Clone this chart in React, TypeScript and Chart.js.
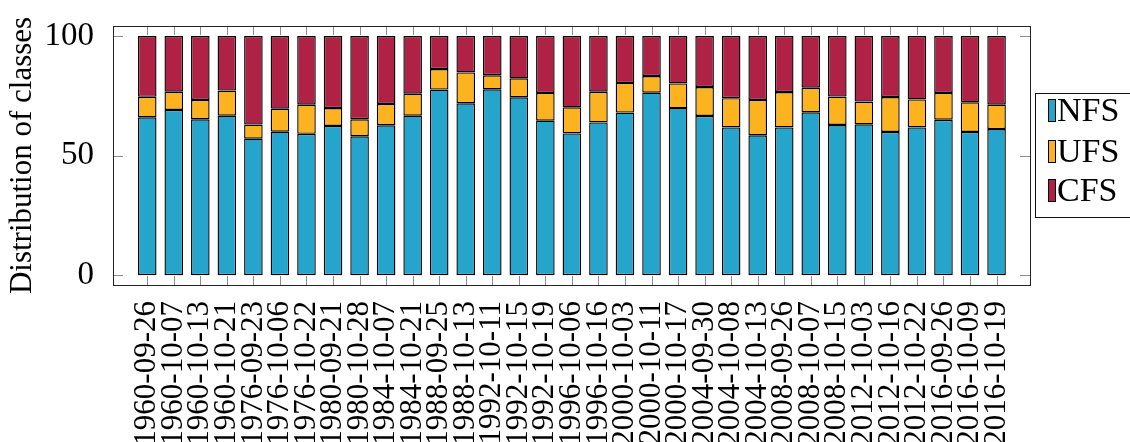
import React, { useEffect, useRef } from "react";
import { Chart, registerables } from "chart.js";

Chart.register(...registerables);

const categories: string[] = [
  "1960-09-26", "1960-10-07", "1960-10-13", "1960-10-21", "1976-09-23", "1976-10-06",
  "1976-10-22", "1980-09-21", "1980-10-28", "1984-10-07", "1984-10-21", "1988-09-25",
  "1988-10-13", "1992-10-11", "1992-10-15", "1992-10-19", "1996-10-06", "1996-10-16",
  "2000-10-03", "2000-10-11", "2000-10-17", "2004-09-30", "2004-10-08", "2004-10-13",
  "2008-09-26", "2008-10-07", "2008-10-15", "2012-10-03", "2012-10-16", "2012-10-22",
  "2016-09-26", "2016-10-09", "2016-10-19",
];

const nfs: number[] = [
  66.0, 69.1, 65.2, 66.7, 57.1, 60.0, 59.1, 62.4, 58.1, 62.7, 66.7, 77.6,
  71.9, 77.7, 74.4, 64.6, 59.3, 63.9, 68.0, 76.3, 69.9, 66.6, 61.8, 58.5,
  61.8, 68.1, 62.8, 63.1, 59.9, 61.8, 65.0, 59.9, 61.1,
];

const ufs: number[] = [
  8.6, 7.6, 8.1, 10.5, 5.9, 9.6, 12.2, 7.5, 7.1, 8.9, 9.2, 8.6,
  12.9, 5.9, 7.9, 11.6, 10.9, 12.8, 12.4, 7.0, 10.3, 12.1, 12.2, 14.8,
  14.8, 10.3, 11.9, 9.5, 14.6, 11.7, 11.2, 12.4, 10.2,
];

const cfs: number[] = [
  25.4, 23.3, 26.7, 22.8, 37.0, 30.4, 28.7, 30.1, 34.8, 28.4, 24.1, 13.8,
  15.2, 16.4, 17.7, 23.8, 29.8, 23.3, 19.6, 16.7, 19.8, 21.3, 26.0, 26.7,
  23.4, 21.6, 25.3, 27.4, 25.5, 26.5, 23.8, 27.7, 28.7,
];

const seriesNames: string[] = ["NFS", "UFS", "CFS"];
const yTickValues: number[] = [0, 50, 100];

const FONT = "'Liberation Serif', 'Times New Roman', serif";
const COLORS = ["#26a5cc", "#fcb31f", "#af2145"];

const framePlugin = {
  id: "frameAndLegend",
  afterDraw(chart: any) {
    const { ctx, chartArea, scales } = chart;
    const { left, right, top, bottom } = chartArea;
    ctx.save();
    // inward ticks
    ctx.strokeStyle = "#8c8c8c";
    ctx.lineWidth = 1;
    const L = 10;
    ctx.beginPath();
    scales.y.ticks.forEach((t: any) => {
      const py = Math.round(scales.y.getPixelForValue(t.value)) + 0.5;
      ctx.moveTo(left, py);
      ctx.lineTo(left + L, py);
      ctx.moveTo(right, py);
      ctx.lineTo(right - L, py);
    });
    scales.x.ticks.forEach((t: any) => {
      const px = Math.round(scales.x.getPixelForValue(t.value)) + 0.5;
      ctx.moveTo(px, top);
      ctx.lineTo(px, top + 9);
      ctx.moveTo(px, bottom);
      ctx.lineTo(px, bottom - 9);
    });
    ctx.stroke();
    // frame
    ctx.strokeStyle = "#222";
    ctx.strokeRect(
      Math.round(left) + 0.5,
      Math.round(top) + 0.5,
      Math.round(right - left),
      Math.round(bottom - top)
    );
    // legend
    const lx = right + 5;
    const ly = 93;
    ctx.strokeStyle = "#111";
    ctx.strokeRect(Math.round(lx) + 0.5, ly + 0.5, 100, 124);
    const ds = chart.data.datasets;
    const centers = [110, 151, 190];
    ctx.font = `34px ${FONT}`;
    ctx.textBaseline = "alphabetic";
    ctx.textAlign = "left";
    ds.forEach((d: any, i: number) => {
      const cy = centers[i];
      ctx.fillStyle = d.backgroundColor;
      ctx.fillRect(lx + 13, cy - 11, 7, 22);
      ctx.strokeStyle = "#000";
      ctx.strokeRect(lx + 13.5, cy - 10.5, 7, 22);
      ctx.fillStyle = "#000";
      ctx.fillText(d.label, lx + 22, cy + 11);
    });
    ctx.restore();
  },
};

export default function App() {
  const ref = useRef<HTMLCanvasElement | null>(null);

  useEffect(() => {
    if (!ref.current) return;
    const datasets = [nfs, ufs, cfs].map((arr, k) => ({
      label: seriesNames[k],
      data: arr.map((v, i) => ({ x: i, y: v })),
      backgroundColor: COLORS[k],
      borderColor: "#000",
      borderWidth: 1.4,
      borderSkipped: false,
      categoryPercentage: 1,
      barPercentage: 0.7,
    }));

    const chart = new Chart(ref.current, {
      type: "bar",
      data: { datasets },
      options: {
        animation: false,
        responsive: false,
        devicePixelRatio: 1,
        layout: { padding: { top: 26, right: 100, bottom: 0, left: 0 } },
        plugins: {
          legend: { display: false },
          tooltip: { enabled: false },
        },
        scales: {
          x: {
            type: "linear",
            stacked: true,
            offset: false,
            min: -1.29,
            max: 33.26,
            grid: { display: false, offset: false },
            border: { display: false },
            afterBuildTicks: (scale: any) => {
              scale.ticks = categories.map((_, i) => ({ value: i }));
            },
            afterFit: (scale: any) => {
              scale.height = 157;
              scale.paddingLeft = 0;
              scale.paddingRight = 0;
            },
            ticks: {
              autoSkip: false,
              minRotation: 90,
              maxRotation: 90,
              padding: 8,
              color: "#000",
              font: { family: FONT, size: 31 },
              callback: (value: any) => categories[value as number],
            },
          },
          y: {
            stacked: true,
            min: -4.1,
            max: 104.2,
            grid: { display: false },
            border: { display: false },
            afterBuildTicks: (scale: any) => {
              scale.ticks = yTickValues.map((v) => ({ value: v }));
            },
            afterFit: (scale: any) => {
              scale.width = 113;
              scale.paddingTop = 0;
              scale.paddingBottom = 0;
            },
            ticks: {
              padding: 11,
              color: "#000",
              font: { family: FONT, size: 33 },
            },
            title: {
              display: true,
              text: "Distribution of classes",
              color: "#000",
              font: { family: FONT, size: 31 },
              padding: { top: 4, bottom: 0 },
            },
          },
        },
      },
      plugins: [framePlugin],
    } as any);

    return () => chart.destroy();
  }, []);

  return (
    <div style={{ position: "absolute", left: 0, top: 0, width: 1130, height: 442, background: "#fff" }}>
      <canvas ref={ref} width={1130} height={442} style={{ display: "block" }} />
    </div>
  );
}
